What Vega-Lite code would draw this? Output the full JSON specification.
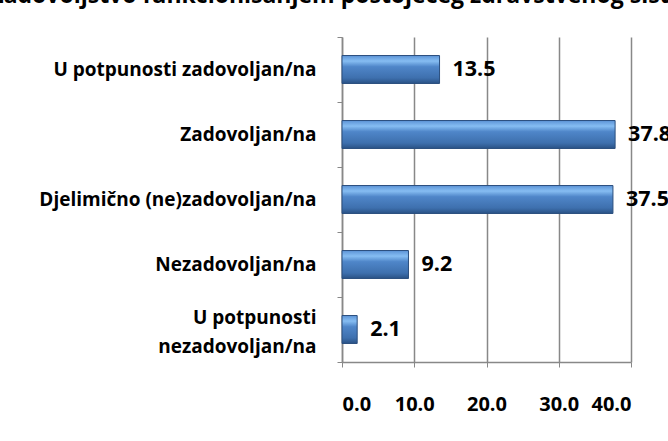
{
  "$schema": "https://vega.github.io/schema/vega-lite/v6.json",
  "autosize": "none",
  "width": 289,
  "height": 325,
  "padding": {"left": 342, "top": 37, "right": 37, "bottom": 79},
  "background": "white",
  "title": {
    "text": "Zadovoljstvo funkcionisanjem postojećeg zdravstvenog sistema",
    "font": "Open Sans",
    "fontSize": 23,
    "fontWeight": "bold",
    "color": "black",
    "anchor": "middle",
    "frame": "bounds",
    "offset": 20
  },
  "data": {
    "values": [
      {"category": "U potpunosti zadovoljan/na", "value": 13.5},
      {"category": "Zadovoljan/na", "value": 37.8},
      {"category": "Djelimično (ne)zadovoljan/na", "value": 37.5},
      {"category": "Nezadovoljan/na", "value": 9.2},
      {"category": "U potpunosti nezadovoljan/na", "value": 2.1}
    ]
  },
  "encoding": {
    "y": {
      "field": "category",
      "type": "nominal",
      "sort": null,
      "title": null,
      "scale": {"paddingInner": 0, "paddingOuter": 0},
      "axis": {
        "tickBand": "extent",
        "labelExpr": "datum.value == 'U potpunosti nezadovoljan/na' ? ['U potpunosti', 'nezadovoljan/na'] : datum.value",
        "labelFont": "Open Sans",
        "labelFontSize": 19,
        "labelFontWeight": "bold",
        "labelColor": "black",
        "labelLineHeight": 29,
        "labelLimit": 400,
        "labelPadding": 21,
        "labelOffset": {"condition": {"test": "datum.value == 'U potpunosti nezadovoljan/na'", "value": -12}, "value": 0},
        "tickSize": 5,
        "tickColor": "#888888",
        "domainColor": "#888888",
        "domainWidth": 1.5,
        "tickWidth": 1,
        "grid": false
      }
    },
    "x": {
      "field": "value",
      "type": "quantitative",
      "title": null,
      "scale": {"domain": [0, 40], "nice": false},
      "axis": {
        "values": [0, 10, 20, 30, 40],
        "format": ".1f",
        "labelFont": "Open Sans",
        "labelFontSize": 20,
        "labelFontWeight": "bold",
        "labelColor": "black",
        "labelPadding": 27,
        "tickSize": 5,
        "tickColor": "#888888",
        "domainColor": "#888888",
        "domainWidth": 1.5,
        "grid": true,
        "gridColor": "#888888",
        "gridWidth": 1.5
      }
    }
  },
  "layer": [
    {
      "mark": {
        "type": "bar",
        "height": {"band": 0.43},
        "stroke": "#2b4f7e",
        "strokeWidth": 1,
        "color": {
          "gradient": "linear",
          "x1": 0, "y1": 0, "x2": 0, "y2": 1,
          "stops": [
            {"offset": 0, "color": "#5c93d6"},
            {"offset": 0.2, "color": "#86bdf2"},
            {"offset": 0.4, "color": "#4f86c9"},
            {"offset": 0.8, "color": "#3e70ae"},
            {"offset": 1, "color": "#2a5285"}
          ]
        }
      }
    },
    {
      "mark": {
        "type": "text",
        "align": "left",
        "baseline": "middle",
        "dx": 13,
        "font": "Open Sans",
        "fontSize": 21.5,
        "fontWeight": "bold",
        "color": "black"
      },
      "encoding": {
        "text": {"field": "value", "type": "quantitative", "format": ".1f"}
      }
    }
  ],
  "config": {
    "view": {"stroke": null}
  }
}
